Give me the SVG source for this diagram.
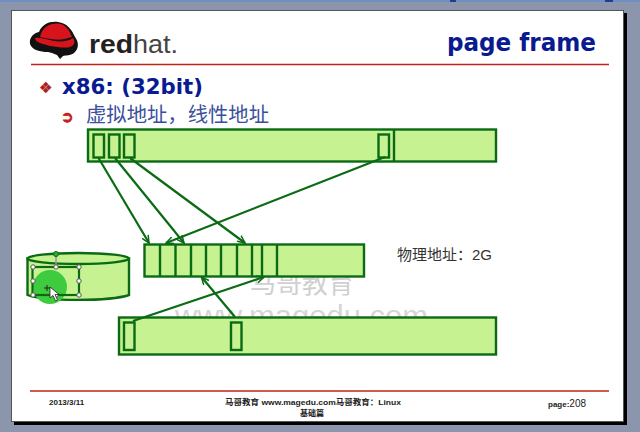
<svg xmlns="http://www.w3.org/2000/svg" width="640" height="432" viewBox="0 0 640 432">
<defs>
<marker id="arr" markerUnits="userSpaceOnUse" markerWidth="9" markerHeight="8" refX="8" refY="4" orient="auto"><path d="M0.500 0.500L8 4L0.500 7.500" fill="none" stroke="#0a6b14" stroke-width="1.500"/></marker>
</defs>
<style>
.box{fill:#c6f292;stroke:#0a6b14;stroke-width:2.400}
.in{fill:none;stroke:#0a6b14;stroke-width:2.400}
.c{stroke:#0a6b14;stroke-width:2.200;fill:none;marker-end:url(#arr)}
.h{fill:#fff;stroke:#555;stroke-width:1}
.s{font-family:"Liberation Sans","Noto Sans CJK SC",sans-serif}
.f{font-family:"Liberation Sans","Noto Sans CJK SC",sans-serif;font-size:8px;font-weight:bold;fill:#222}
</style>
<rect width="640" height="432" fill="#8b96ad"/>
<rect width="640" height="2" fill="#6f8fc0"/>
<rect x="450" y="0" width="6" height="2" fill="#1f3f90"/>
<rect x="605" y="0" width="8" height="2" fill="#1f3f90"/>
<rect x="14" y="13" width="613" height="412" fill="#000"/>
<rect x="11.500" y="10.500" width="612" height="411" fill="#fff" stroke="#555" stroke-width="1"/>
<g id="logo">
<path d="M30 44C29 37 34 33 39 32C42 24 50 21 58 22C67 23 72 30 75 37C79 42 79 49 74 53C70 56 66 55 63 56L60 59L57 55L52 53L48 52C40 52 32 50 30 44Z" fill="#111"/>
<path d="M40 37C42 27 50 23 58 23.500C66 24 70 31 72 37C66 39 60 40 55 39.500C49 39 44 38 40 37Z" fill="#d7141c"/>
<path d="M35 38C39 37 45 39 54 41C62 42 69 41 73 38C76 42 74 47 68 47.500C60 48 48 46 40 43C37 42 35 40 35 38Z" fill="#d7141c"/>
<text x="89" y="53" font-family="'Liberation Sans',sans-serif" font-size="25" font-weight="bold" fill="#222" textLength="44" lengthAdjust="spacingAndGlyphs">red</text>
<text x="133" y="53" font-family="'Liberation Sans',sans-serif" font-size="25" fill="#444" textLength="45" lengthAdjust="spacingAndGlyphs">hat.</text>
</g>
<text x="447" y="51" font-family="'DejaVu Sans',sans-serif" font-size="24" font-weight="bold" fill="#0a1a90" textLength="149" lengthAdjust="spacingAndGlyphs">page frame</text>
<line x1="31" y1="64.500" x2="609" y2="64.500" stroke="#c0241c" stroke-width="1.500"/>
<text x="39" y="93" font-family="'DejaVu Sans',sans-serif" font-size="15" fill="#b01a1a" stroke="#b01a1a" stroke-width=".4">❖</text>
<text x="62" y="94" font-family="'DejaVu Sans',sans-serif" font-size="21" font-weight="bold" fill="#0a1a90" textLength="141" lengthAdjust="spacingAndGlyphs">x86: (32bit)</text>
<text x="61" y="122" font-family="'DejaVu Sans',sans-serif" font-size="15" fill="#c81c14" stroke="#c81c14" stroke-width=".8">➲</text>
<text x="86" y="122" font-family="'Noto Sans CJK SC',sans-serif" font-size="20" fill="#3a4f9c" textLength="183" lengthAdjust="spacingAndGlyphs">虚拟地址，线性地址</text>
<g id="watermark" class="s">
<text x="250" y="293" font-size="26" fill="#d0d0d0">马哥教育</text>
<text x="175" y="326" font-size="30" fill="#d6d6d6" textLength="253" lengthAdjust="spacingAndGlyphs">www.magedu.com</text>
</g>
<g id="virtual-top">
<rect class="box" x="88" y="129.500" width="408" height="32"/>
<rect class="in" x="93.500" y="134.500" width="10.500" height="23"/>
<rect class="in" x="109" y="134.500" width="10.500" height="23"/>
<rect class="in" x="124" y="134.500" width="10.500" height="23"/>
<rect class="in" x="378.500" y="134.500" width="10.500" height="23"/>
<line class="in" x1="394" y1="129.500" x2="394" y2="161.500"/>
</g>
<g id="physical">
<rect class="box" x="144.500" y="244.500" width="219.500" height="32"/>
<path class="in" d="M160 244.500V276.500M175.500 244.500V276.500M191 244.500V276.500M206 244.500V276.500M221 244.500V276.500M237 244.500V276.500M252 244.500V276.500M262 244.500V276.500M277 244.500V276.500"/>
</g>
<g id="virtual-bottom">
<rect class="box" x="119" y="317.500" width="377" height="37"/>
<rect class="in" x="124" y="322.500" width="10.500" height="27.500"/>
<rect class="in" x="231" y="322.500" width="10.500" height="27.500"/>
</g>
<g id="connectors">
<line class="c" x1="98.500" y1="158" x2="149" y2="243"/>
<line class="c" x1="115" y1="158" x2="184" y2="243"/>
<line class="c" x1="130" y1="158" x2="245" y2="243"/>
<line class="c" x1="385" y1="157" x2="166" y2="243"/>
<line class="c" x1="133" y1="321" x2="264" y2="277"/>
<line class="c" x1="235" y1="317" x2="201.500" y2="277"/>
</g>
<text class="s" x="397" y="260" font-size="15" fill="#333">物理地址：2G</text>
<g id="disk">
<path class="box" d="M27.500 258.500V295C45 301.500 110 301.500 129 295V258.500Z"/>
<ellipse class="box" cx="78.200" cy="258.500" rx="50.800" ry="5.500"/>
<circle cx="50" cy="287" r="17" fill="#3ecb3e"/>
<rect x="32.500" y="267" width="46.500" height="28" fill="none" stroke="#0a6b14" stroke-width="2.200"/>
<line x1="56" y1="254" x2="56" y2="267" stroke="#999" stroke-width="1.500"/>
<circle cx="56" cy="254" r="2.500" fill="#2fae2f" stroke="#0a6b14"/>
<circle class="h" cx="33" cy="267" r="2.200"/><circle class="h" cx="56" cy="267" r="2.200"/><circle class="h" cx="79" cy="267" r="2.200"/>
<circle class="h" cx="33" cy="281" r="2.200"/><circle class="h" cx="79" cy="281" r="2.200"/>
<circle class="h" cx="33" cy="295" r="2.200"/><circle class="h" cx="56" cy="295" r="2.200"/><circle class="h" cx="79" cy="295" r="2.200"/>
<path d="M50 287L50 298L53 295.500L55.500 301L57.500 300L55 294.500L59 294.500Z" fill="#fff" stroke="#222" stroke-width=".8"/>
<path d="M44 288H50M47 285V291" stroke="#222" stroke-width="1"/>
</g>
<line x1="30" y1="391" x2="609" y2="391" stroke="#c0241c" stroke-width="1.500"/>
<text class="f" x="49" y="405">2013/3/11</text>
<text class="f" x="225" y="405" textLength="176" lengthAdjust="spacingAndGlyphs">马哥教育 www.magedu.com马哥教育：Linux</text>
<text class="f" x="312" y="416" text-anchor="middle">基础篇</text>
<text class="f" x="548" y="407">page:<tspan font-size="10" font-weight="normal">208</tspan></text>
</svg>
